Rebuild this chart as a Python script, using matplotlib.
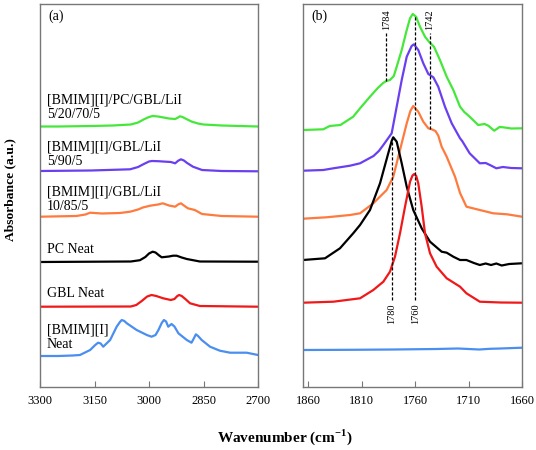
import matplotlib
matplotlib.use("Agg")
import matplotlib.pyplot as plt

plt.rcParams['font.family'] = ['Liberation Serif', 'DejaVu Serif']
plt.rcParams['mathtext.fontset'] = 'custom'
plt.rcParams['mathtext.rm'] = 'Liberation Serif'
plt.rcParams['mathtext.bf'] = 'Liberation Serif:bold'

# colours of the six spectra
c_green = "#45e83a"
c_purple = "#6a3ff0"
c_orange = "#ff7a3d"
c_black = "#000000"
c_red = "#f01818"
c_blue = "#4a8ef0"

# ---- panel (a): C-H stretch region ----
green_a_w = [3300, 3250, 3160, 3100, 3050, 3030, 3015, 3000, 2990, 2975, 2960, 2945, 2928, 2920, 2915, 2908,
             2900, 2882, 2865, 2850, 2800, 2700]
green_a_y = [2.605, 2.605, 2.61, 2.615, 2.625, 2.645, 2.675, 2.70, 2.71, 2.705, 2.695, 2.685, 2.68, 2.695, 2.707,
             2.70, 2.685, 2.653, 2.635, 2.625, 2.615, 2.605]

purple_a_w = [3300, 3160, 3052, 3030, 3017, 3000, 2992, 2975, 2962, 2940, 2928, 2920, 2912, 2904, 2895, 2879,
              2854, 2800, 2700]
purple_a_y = [2.16, 2.165, 2.177, 2.2, 2.225, 2.255, 2.26, 2.258, 2.255, 2.25, 2.237, 2.262, 2.277, 2.265, 2.24,
              2.203, 2.17, 2.16, 2.157]

orange_a_w = [3300, 3200, 3175, 3162, 3130, 3080, 3052, 3030, 3017, 2997, 2975, 2962, 2945, 2928, 2920, 2912,
              2904, 2893, 2874, 2854, 2800, 2700]
orange_a_y = [1.703, 1.71, 1.725, 1.743, 1.735, 1.74, 1.753, 1.775, 1.795, 1.813, 1.825, 1.837, 1.815, 1.803,
              1.825, 1.837, 1.815, 1.787, 1.77, 1.73, 1.71, 1.703]

black_a_w = [3300, 3050, 3025, 3010, 3000, 2990, 2982, 2972, 2965, 2945, 2934, 2924, 2910, 2896, 2860, 2700]
black_a_y = [1.25, 1.255, 1.268, 1.30, 1.335, 1.353, 1.345, 1.315, 1.297, 1.305, 1.313, 1.313, 1.295, 1.28,
             1.255, 1.253]

red_a_w = [3300, 3050, 3035, 3020, 3005, 2993, 2980, 2961, 2940, 2930, 2922, 2917, 2910, 2900, 2887, 2860, 2700]
red_a_y = [0.803, 0.805, 0.82, 0.86, 0.905, 0.92, 0.91, 0.887, 0.87, 0.88, 0.91, 0.92, 0.91, 0.88, 0.837, 0.81,
           0.803]

blue_a_w = [3300, 3250, 3210, 3190, 3162, 3148, 3140, 3133, 3126, 3107, 3089, 3080, 3075, 3068, 3061, 3034,
            3006, 2993, 2982, 2974, 2965, 2959, 2953, 2947, 2938, 2930, 2919, 2896, 2883, 2876, 2871, 2865,
            2855, 2832, 2805, 2777, 2731, 2700]
blue_a_y = [0.31, 0.31, 0.315, 0.32, 0.37, 0.42, 0.443, 0.435, 0.403, 0.47, 0.603, 0.65, 0.67, 0.66, 0.637, 0.57,
            0.52, 0.503, 0.52, 0.57, 0.64, 0.67, 0.655, 0.603, 0.63, 0.605, 0.537, 0.47, 0.443, 0.49, 0.527, 0.51,
            0.47, 0.403, 0.363, 0.343, 0.343, 0.32]

# ---- panel (b): C=O stretch region ----
green_b_w = [1865, 1846, 1840, 1830, 1818, 1811.6, 1802.3, 1795, 1790, 1787, 1783.6, 1780, 1777.3, 1772.6,
             1767.9, 1764.8, 1762.3, 1759.2, 1755.5, 1750.8, 1747.1, 1742.4, 1736.8, 1730.5, 1724.3, 1718,
             1714, 1709, 1701, 1695, 1691.5, 1686, 1681, 1677.5, 1670, 1660]
green_b_y = [2.57, 2.577, 2.61, 2.62, 2.703, 2.787, 2.903, 2.99, 3.04, 3.06, 3.07, 3.11, 3.203, 3.37,
             3.57, 3.687, 3.73, 3.703, 3.603, 3.503, 3.453, 3.403, 3.27, 3.103, 2.97, 2.803,
             2.75, 2.703, 2.62, 2.63, 2.613, 2.563, 2.60, 2.597, 2.585, 2.587]

purple_b_w = [1865, 1846, 1836.6, 1821, 1811.6, 1799, 1794, 1789.8, 1782, 1777.3, 1772.6, 1767.9, 1763.3,
              1761.1, 1757.1, 1752.4, 1747.7, 1743, 1738.4, 1732.1, 1725.8, 1718, 1716, 1709, 1699.5, 1694,
              1690, 1684, 1678, 1670, 1660]
purple_b_y = [2.163, 2.17, 2.187, 2.213, 2.237, 2.31, 2.36, 2.42, 2.537, 2.803, 3.07, 3.303, 3.41,
              3.427, 3.37, 3.237, 3.13, 3.097, 3.003, 2.803, 2.637, 2.487, 2.46, 2.337, 2.237, 2.24,
              2.22, 2.187, 2.20, 2.19, 2.187]

orange_b_w = [1865, 1843, 1821, 1811.6, 1799.2, 1786.7, 1780.5, 1774.2, 1767.9, 1764.5, 1761.8, 1757.1,
              1752.4, 1747.7, 1744.5, 1741, 1738.4, 1735.2, 1730.5, 1722.7, 1718, 1712, 1699.5, 1687, 1674, 1660]
orange_b_y = [1.683, 1.697, 1.72, 1.737, 1.837, 1.97, 2.103, 2.37, 2.637, 2.76, 2.81, 2.753,
              2.653, 2.587, 2.577, 2.56, 2.515, 2.403, 2.303, 2.103, 1.94, 1.803, 1.77, 1.737, 1.727, 1.703]

black_b_w = [1865, 1844.4, 1830.4, 1818, 1811.6, 1802.3, 1792.9, 1785.2, 1782, 1780.5, 1777.3, 1772.6,
             1767.9, 1761.8, 1753.9, 1746.1, 1735.2, 1730.5, 1724.3, 1718, 1712, 1705, 1699.5, 1694, 1689,
             1684, 1679, 1672, 1660]
black_b_y = [1.27, 1.287, 1.387, 1.537, 1.62, 1.77, 2.037, 2.337, 2.46, 2.497, 2.453, 2.237,
             2.003, 1.77, 1.587, 1.453, 1.353, 1.343, 1.303, 1.27, 1.27, 1.24, 1.22, 1.235, 1.22,
             1.235, 1.215, 1.23, 1.237]

red_b_w = [1865, 1836.6, 1811.6, 1799.2, 1789.8, 1783.6, 1778.9, 1774.2, 1769.5, 1764.8, 1762.5, 1760.8,
           1759, 1757.1, 1753.9, 1750.8, 1746.1, 1739.9, 1730.5, 1718, 1712, 1699.5, 1680, 1660]
red_b_y = [0.843, 0.853, 0.887, 0.97, 1.053, 1.153, 1.303, 1.537, 1.803, 2.053, 2.115, 2.13,
           2.11, 2.037, 1.803, 1.537, 1.337, 1.203, 1.087, 1.003, 0.937, 0.853, 0.845, 0.843]

blue_b_w = [1865, 1820, 1780, 1740, 1720, 1710, 1700, 1690, 1680, 1660]
blue_b_y = [0.37, 0.372, 0.375, 0.38, 0.385, 0.38, 0.375, 0.382, 0.385, 0.393]

# sample names (panel a)
labels = ["[BMIM][I]/PC/GBL/LiI\n5/20/70/5", "[BMIM][I]/GBL/LiI\n5/90/5", "[BMIM][I]/GBL/LiI\n10/85/5",
          "PC Neat", "GBL Neat", "[BMIM][I]\nNeat"]
label_y = [2.66, 2.19, 1.74, 1.31, 0.87, 0.36]

# peak markers (panel b): drawn position, text
top_marks = [1787, 1746]
top_mark_text = ["1784", "1742"]
top_mark_lo = [3.06, 2.58]
bot_marks = [1782, 1760]
bot_mark_text = ["1780", "1760"]
bot_mark_hi = [2.497, 3.72]

fig = plt.figure(figsize=(5.36, 4.5), dpi=100)
ax1 = fig.add_axes([40/536, 1-387/450, 218/536, 383/450])
ax2 = fig.add_axes([303/536, 1-387/450, 219/536, 383/450])

lw = 1.6
for w, y, c in [(green_a_w, green_a_y, c_green), (purple_a_w, purple_a_y, c_purple),
                (orange_a_w, orange_a_y, c_orange), (black_a_w, black_a_y, c_black),
                (red_a_w, red_a_y, c_red), (blue_a_w, blue_a_y, c_blue)]:
    ax1.plot(w, y, color=c, lw=lw, solid_joinstyle="round")
for w, y, c in [(green_b_w, green_b_y, c_green), (purple_b_w, purple_b_y, c_purple),
                (orange_b_w, orange_b_y, c_orange), (black_b_w, black_b_y, c_black),
                (red_b_w, red_b_y, c_red), (blue_b_w, blue_b_y, c_blue)]:
    ax2.plot(w, y, color=c, lw=lw, solid_joinstyle="round")

for txt, yy in zip(labels, label_y):
    ax1.text(3281, yy, txt, fontsize=10, va="bottom", ha="left", linespacing=1.15)

ax1.set_xlim(3300, 2700)
ax2.set_xlim(1865, 1660)
ax1.set_xticks([3300, 3150, 3000, 2850, 2700])
ax2.set_xticks([1860, 1810, 1760, 1710, 1660])
for ax in (ax1, ax2):
    ax.set_ylim(0, 3.83)
    ax.set_yticks([])
    ax.tick_params(axis="x", direction="in", length=4, width=0.8, color="#777777", labelsize=9, pad=6)
    for s in ax.spines.values():
        s.set_color("#777777")
        s.set_linewidth(1.0)

ax1.text(0.04, 0.985, "(a)", transform=ax1.transAxes, fontsize=10, va="top")
ax2.text(0.04, 0.985, "(b)", transform=ax2.transAxes, fontsize=10, va="top")

dash = (0, (2.5, 1.5))
for xm, t, lo in zip(top_marks, top_mark_text, top_mark_lo):
    ax2.plot([xm, xm], [lo, 3.54], color="black", lw=0.9, linestyle=dash)
    ax2.text(xm, 3.57, t, rotation=90, fontsize=7.5, ha="center", va="bottom")
for xm, t, hi in zip(bot_marks, bot_mark_text, bot_mark_hi):
    ax2.plot([xm, xm], [0.87, hi], color="black", lw=0.9, linestyle=dash)
    ax2.text(xm, 0.84, t, rotation=90, fontsize=7.5, ha="center", va="top")

fig.text(10/536, 1-190/450, "Absorbance (a.u.)", rotation=90, fontsize=9.7, fontweight="bold",
         ha="center", va="center")
fig.text(285/536, 1-437/450, r"Wavenumber (cm$^{\mathbf{-1}}$)", fontsize=11, fontweight="bold",
         ha="center", va="center")

fig.savefig("out.png", dpi=100)
